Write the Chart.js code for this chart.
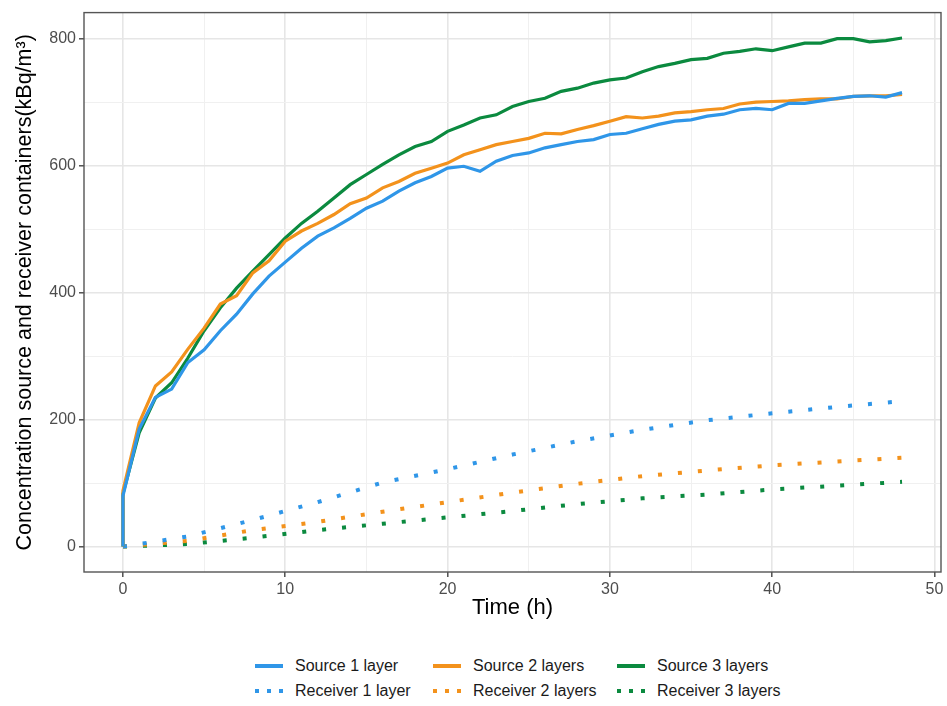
<!DOCTYPE html>
<html>
<head>
<meta charset="utf-8">
<script src="https://cdn.jsdelivr.net/npm/chart.js@4.4.1/dist/chart.umd.min.js"></script>
<style>
  body { margin: 0; background: #fff; font-family: "Liberation Sans", Arial, sans-serif; }
  #wrap { position: relative; width: 947px; height: 706px; }
  #legend { position: absolute; left: 255px; top: 653px; display: grid;
            grid-template-columns: 178px 184px auto; grid-auto-rows: 25px; }
  .item { display: flex; align-items: center; font-size: 16px; color: #1a1a1a; }
  .swatch { width: 28px; height: 4px; margin-right: 12px; }
</style>
</head>
<body>
<div id="wrap">
  <canvas id="chart" width="947" height="640"></canvas>
  <div id="legend"></div>
</div>
<script>
// Datos
const hours = [0, 0, 1, 2, 3, 4, 5, 6, 7, 8, 9, 10, 11, 12, 13, 14, 15, 16, 17, 18, 19, 20,
    21, 22, 23, 24, 25, 26, 27, 28, 29, 30, 31, 32, 33, 34, 35, 36, 37, 38, 39, 40,
    41, 42, 43, 44, 45, 46, 47, 48];

const source1 = [0, 80, 185, 235, 248, 290, 310, 340, 366, 398, 426, 448, 470, 489, 502, 517,
    533, 544, 560, 573, 583, 596, 599, 591, 607, 616, 620, 628, 633, 638, 641, 649, 651,
    658, 665, 670, 672, 678, 681, 688, 690, 688, 698, 698, 702, 706, 709, 710, 708, 715];
const source2 = [0, 88, 195, 253, 275, 311, 344, 382, 395, 431, 450, 481, 497, 509, 523, 540,
    549, 565, 575, 588, 596, 604, 617, 625, 633, 638, 643, 651, 650, 657, 663, 670, 677,
    675, 678, 683, 685, 688, 690, 697, 700, 701, 702, 704, 705, 705, 709, 710, 710, 712];
const source3 = [0, 83, 179, 234, 258, 297, 340, 376, 407, 434, 460, 486, 509, 528, 549, 570,
    586, 602, 617, 630, 638, 654, 664, 675, 680, 693, 701, 706, 717, 722, 730, 735, 738,
    748, 756, 761, 767, 769, 777, 780, 784, 781, 787, 793, 793, 800, 800, 795, 797, 801];

const recHours = [0, 4, 8, 12, 16, 20, 24, 28, 32, 36, 40, 44, 48];
const receiver1 = [0, 16, 42, 70, 101, 122, 145, 166, 184, 199, 210, 220, 229];
const receiver2 = [0, 9, 26, 39, 55, 70, 85, 99, 111, 120, 128, 134, 140];
const receiver3 = [0, 4, 14, 26, 36, 46, 56, 67, 76, 82, 90, 96, 102];

const xTicks = [0, 5, 10, 15, 20, 25, 30, 35, 40, 45, 50];
const xLabels = [0, 10, 20, 30, 40, 50];
const yTicks = [0, 100, 200, 300, 400, 500, 600, 700, 800];
const yLabels = [0, 200, 400, 600, 800];

const BLUE = "#2f96e8", ORANGE = "#f3921c", GREEN = "#0b8a3f";

function pts(xs, ys) {
    return xs.map((x, i) => ({ x: x, y: ys[i] }));
}

function solid(label, color, ys) {
    return { label, data: pts(hours, ys), borderColor: color, borderWidth: 3.2,
        pointRadius: 0, fill: false, tension: 0, borderJoinStyle: 'miter' };
}
function dotted(label, color, ys) {
    return { label, data: pts(recHours, ys), borderColor: color, borderWidth: 4,
        borderDash: [4, 16], borderCapStyle: 'butt', pointRadius: 0, fill: false, tension: 0 };
}

const datasets = [
    solid("Source 1 layer", BLUE, source1),
    solid("Source 2 layers", ORANGE, source2),
    solid("Source 3 layers", GREEN, source3),
    dotted("Receiver 1 layer", BLUE, receiver1),
    dotted("Receiver 2 layers", ORANGE, receiver2),
    dotted("Receiver 3 layers", GREEN, receiver3)
];

// borde del panel (estilo theme_bw)
const panelBorder = {
    id: 'panelBorder',
    afterDraw(chart) {
        const a = chart.chartArea, c = chart.ctx;
        c.save();
        c.strokeStyle = "#555";
        c.lineWidth = 1.4;
        c.strokeRect(a.left, a.top, a.right - a.left, a.bottom - a.top);
        c.restore();
    }
};

const tickFont = { family: "'Liberation Sans', Arial, sans-serif", size: 16 };
const titleFont = { family: "'Liberation Sans', Arial, sans-serif", size: 22 };
const yTitleFont = { family: "'Liberation Sans', Arial, sans-serif", size: 21.5 };

function gridOpts(labels) {
    return {
        drawTicks: true,
        tickLength: 5,
        color: ctx => labels.includes(ctx.tick.value) ? "#e6e6e6" : "#f0f0f0",
        lineWidth: ctx => labels.includes(ctx.tick.value) ? 1.6 : 1,
        tickColor: ctx => labels.includes(ctx.tick.value) ? "#444" : "rgba(0,0,0,0)",
        tickWidth: 1.4
    };
}

new Chart(document.getElementById("chart"), {
    type: 'line',
    data: { datasets },
    options: {
        responsive: false,
        animation: false,
        layout: { padding: { top: 10.7, right: 6, left: 0, bottom: 0 } },
        plugins: { legend: { display: false }, tooltip: { enabled: false } },
        scales: {
            x: {
                type: 'linear', min: -2.4, max: 50.4,
                afterBuildTicks: a => { a.ticks = xTicks.map(v => ({ value: v })); },
                afterFit: a => { a.height = 68; },
                ticks: { autoSkip: false, maxRotation: 0, padding: 3, color: "#4d4d4d", font: tickFont,
                    callback: v => xLabels.includes(v) ? String(v) : "" },
                grid: gridOpts(xLabels),
                border: { display: false },
                title: { display: true, text: "Time (h)", color: "#000", font: titleFont,
                    padding: { top: 0, bottom: 19 } }
            },
            y: {
                type: 'linear', min: -40, max: 841,
                afterBuildTicks: a => { a.ticks = yTicks.map(v => ({ value: v })); },
                afterFit: a => { a.width = 84; },
                ticks: { autoSkip: false, padding: 3, color: "#4d4d4d", font: tickFont,
                    callback: v => yLabels.includes(v) ? String(v) : "" },
                grid: gridOpts(yLabels),
                border: { display: false },
                title: { display: true, text: "Concentration source and receiver containers(kBq/m³)",
                    color: "#000", font: yTitleFont, padding: { top: 12, bottom: 4 } }
            }
        }
    },
    plugins: [panelBorder]
});

// Leyenda en dos filas, como en ggplot
const $legend = document.getElementById("legend");
datasets.forEach(ds => {
    const item = document.createElement("div");
    item.className = "item";
    const sw = document.createElement("div");
    sw.className = "swatch";
    if (ds.borderDash) {
        sw.style.background = `repeating-linear-gradient(to right, ${ds.borderColor} 0 4px, transparent 4px 12px)`;
    } else {
        sw.style.background = ds.borderColor;
    }
    const txt = document.createElement("span");
    txt.textContent = ds.label;
    item.appendChild(sw);
    item.appendChild(txt);
    $legend.appendChild(item);
});
</script>
</body>
</html>
